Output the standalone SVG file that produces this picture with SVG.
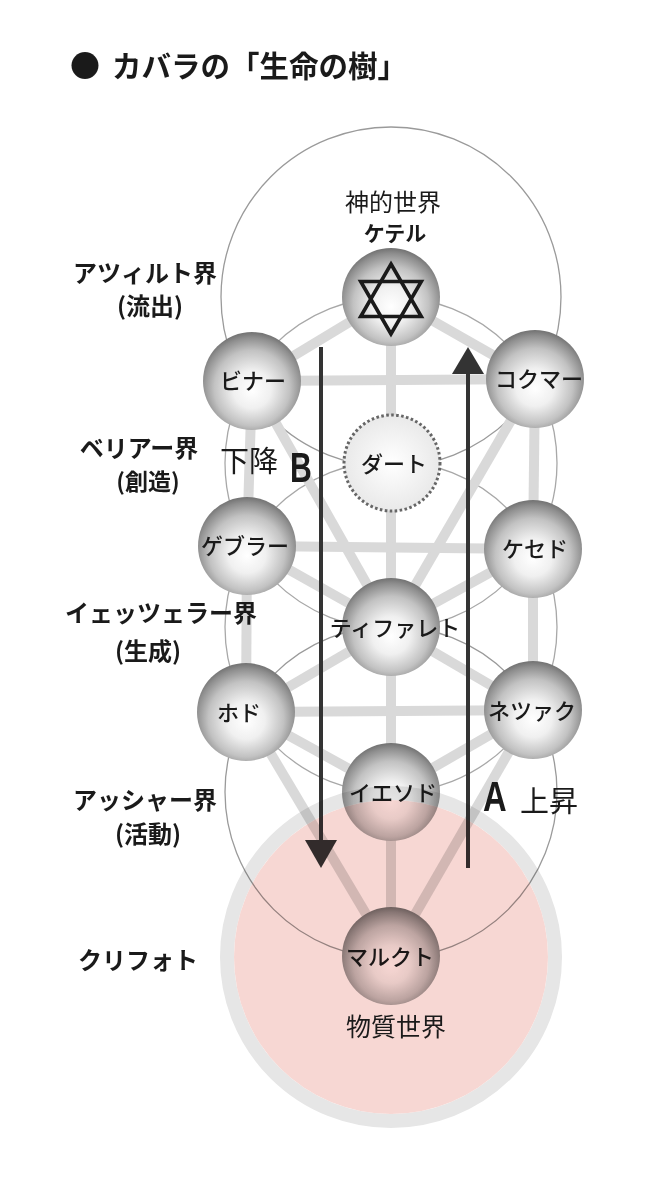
<svg xmlns="http://www.w3.org/2000/svg" width="670" height="1200" viewBox="0 0 670 1200">
<defs>
<radialGradient id="sphere" cx="0.5" cy="0.56" r="0.55" fx="0.5" fy="0.6">
<stop offset="0" stop-color="#ffffff"/>
<stop offset="0.35" stop-color="#f0f0f0"/>
<stop offset="0.7" stop-color="#c2c2c2"/>
<stop offset="0.92" stop-color="#8e8e8e"/>
<stop offset="1" stop-color="#767676"/>
</radialGradient>
<radialGradient id="daath" cx="0.5" cy="0.5" r="0.5">
<stop offset="0" stop-color="#ffffff"/>
<stop offset="1" stop-color="#e9e9e9"/>
</radialGradient>
</defs>
<style>
.ring{fill:none;stroke:#a8a8a8;stroke-width:1.3}
.ring1{fill:none;stroke:#9a9a9a;stroke-width:1.3}
.path{stroke:#d9d9d9;stroke-width:10;stroke-linecap:butt;fill:none}
.sph{fill:url(#sphere)}
.lbl{font-family:"Noto Sans CJK JP","Noto Sans",sans-serif;font-size:22px;font-weight:500;fill:#1a1a1a;text-anchor:middle}
.kt{font-family:"Noto Sans CJK JP","Noto Sans",sans-serif;font-size:21px;font-weight:bold;fill:#1a1a1a;text-anchor:middle}
.side{font-family:"Noto Sans CJK JP","Noto Sans",sans-serif;font-size:24px;font-weight:bold;fill:#1a1a1a;text-anchor:middle}
.reg{font-family:"Noto Sans CJK JP","Noto Sans",sans-serif;font-size:25px;font-weight:normal;fill:#1a1a1a;text-anchor:middle}
.big{font-family:"Noto Sans CJK JP","Noto Sans",sans-serif;font-size:29px;font-weight:normal;fill:#1a1a1a}
.letter{font-family:"Liberation Sans",Arial,sans-serif;font-size:42px;font-weight:bold;fill:#1a1a1a}
.arrow{stroke:#333;stroke-width:4;fill:none}
.head{fill:#333}
</style>

<g id="world-circles">
<circle class="ring1" cx="391" cy="297" r="170"/>
<circle class="ring" cx="391" cy="463" r="166"/>
<circle class="ring" cx="391" cy="627" r="166"/>
<circle class="ring1" cx="391" cy="792" r="166"/>
</g>

<g id="connectors">
<line class="path" x1="391" y1="297" x2="535" y2="379"/>
<line class="path" x1="391" y1="297" x2="252" y2="381"/>
<line class="path" x1="391" y1="297" x2="391" y2="627"/>
<line class="path" x1="252" y1="381" x2="535" y2="379"/>
<line class="path" x1="535" y1="379" x2="391" y2="627"/>
<line class="path" x1="535" y1="379" x2="533" y2="549"/>
<line class="path" x1="252" y1="381" x2="391" y2="627"/>
<line class="path" x1="252" y1="381" x2="247" y2="546"/>
<line class="path" x1="247" y1="546" x2="533" y2="549"/>
<line class="path" x1="533" y1="549" x2="391" y2="627"/>
<line class="path" x1="533" y1="549" x2="533" y2="710"/>
<line class="path" x1="247" y1="546" x2="391" y2="627"/>
<line class="path" x1="247" y1="546" x2="246" y2="712"/>
<line class="path" x1="391" y1="627" x2="533" y2="710"/>
<line class="path" x1="391" y1="627" x2="391" y2="792"/>
<line class="path" x1="391" y1="627" x2="246" y2="712"/>
<line class="path" x1="246" y1="712" x2="533" y2="710"/>
<line class="path" x1="533" y1="710" x2="391" y2="792"/>
<line class="path" x1="533" y1="710" x2="391" y2="956"/>
<line class="path" x1="246" y1="712" x2="391" y2="792"/>
<line class="path" x1="246" y1="712" x2="391" y2="956"/>
<line class="path" x1="391" y1="792" x2="391" y2="956"/>
</g>

<g id="node-keter">
<circle class="sph" cx="391" cy="297" r="49"/>
<g fill="none" stroke="#1a1a1a" stroke-width="3.6" stroke-linejoin="miter">
<polygon points="391,264 421.3,316.5 360.7,316.5"/>
<polygon points="391,334 360.7,281.5 421.3,281.5"/>
</g>
<text class="reg" x="393" y="211" style="font-size:24px">神的世界</text>
<text class="kt" x="395" y="241">ケテル</text>
</g>
<g id="node-binah">
<circle class="sph" cx="252" cy="381" r="49"/>
<text class="lbl" x="253" y="389">ビナー</text>
</g>
<g id="node-chokmah">
<circle class="sph" cx="535" cy="379" r="49"/>
<text class="lbl" x="539" y="387">コクマー</text>
</g>
<g id="node-daath">
<circle cx="392" cy="463" r="48" fill="url(#daath)" stroke="#666" stroke-width="3" stroke-dasharray="2.6 2.4"/>
<text class="lbl" x="394" y="472">ダート</text>
</g>
<g id="node-geburah">
<circle class="sph" cx="247" cy="546" r="49"/>
<text class="lbl" x="245" y="554">ゲブラー</text>
</g>
<g id="node-chesed">
<circle class="sph" cx="533" cy="549" r="49"/>
<text class="lbl" x="535" y="557">ケセド</text>
</g>
<g id="node-tiphareth">
<circle class="sph" cx="391" cy="627" r="49"/>
<text class="lbl" x="395" y="636">ティファレト</text>
</g>
<g id="node-hod">
<circle class="sph" cx="246" cy="712" r="49"/>
<text class="lbl" x="239" y="721">ホド</text>
</g>
<g id="node-netzach">
<circle class="sph" cx="533" cy="710" r="49"/>
<text class="lbl" x="532" y="719">ネツァク</text>
</g>
<g id="node-yesod">
<circle class="sph" cx="391" cy="792" r="49"/>
<text class="lbl" x="393" y="801">イエソド</text>
</g>
<g id="node-malkuth">
<circle class="sph" cx="391" cy="956" r="49"/>
<text class="lbl" x="390" y="965">マルクト</text>
</g>

<g id="arrows">
<line class="arrow" x1="321" y1="347" x2="321" y2="842"/>
<polygon class="head" points="305,840 337,840 321,868"/>
<line class="arrow" x1="468" y1="868" x2="468" y2="372"/>
<polygon class="head" points="452,374 484,374 468,347"/>
<text class="big" x="220" y="472">下降</text>
<text class="letter" transform="translate(290,482) scale(0.72,1)">B</text>
<text class="letter" transform="translate(483,811) scale(0.78,1)">A</text>
<text class="big" x="520" y="812">上昇</text>
</g>

<g id="qliphoth" style="mix-blend-mode:multiply">
<circle cx="391" cy="957" r="164" fill="none" stroke="#e6e6e6" stroke-width="14"/>
<circle cx="391" cy="957" r="157" fill="#f7d7d3"/>
</g>

<g id="labels">
<text class="reg" x="396" y="1036">物質世界</text>
<text class="side" x="145" y="282">アツィルト界</text>
<text class="side" x="150" y="315">(流出)</text>
<text class="side" x="139" y="457">ベリアー界</text>
<text class="side" x="148" y="490" style="font-size:23px">(創造)</text>
<text class="side" x="161" y="622">イェッツェラー界</text>
<text class="side" x="148" y="660">(生成)</text>
<text class="side" x="145" y="809">アッシャー界</text>
<text class="side" x="148" y="843">(活動)</text>
<text class="side" x="138" y="969">クリフォト</text>
</g>

<g id="title">
<text x="70" y="77" font-family="'Noto Sans CJK JP','Noto Sans',sans-serif" font-size="30" font-weight="bold" fill="#1a1a1a">●</text>
<text x="112" y="77" font-family="'Noto Sans CJK JP','Noto Sans',sans-serif" font-size="29.5" font-weight="bold" fill="#1a1a1a">カバラの「生命の樹」</text>
</g>
</svg>
